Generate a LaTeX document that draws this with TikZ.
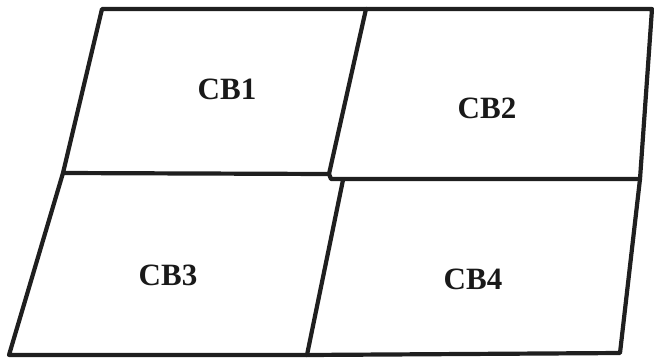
\documentclass[tikz,border=0pt]{standalone}
\usepackage{fontspec}
\setmainfont{Liberation Serif}
\begin{document}
\begin{tikzpicture}[x=1pt,y=-1pt,
  edge/.style={line width=4.2pt,line join=round,line cap=round,black!88},
  lbl/.style={font=\bfseries\fontsize{31}{31}\selectfont,inner sep=0pt,text=black!90}]
\useasboundingbox (0,0) rectangle (654,360);
\coordinate (TL) at (102,9);
\coordinate (TM) at (366,9);
\coordinate (TR) at (652,9);
\coordinate (ML) at (63,173);
\coordinate (MC1) at (329,174);
\coordinate (MC2) at (331,179);
\coordinate (MC3) at (343,180);
\coordinate (MR) at (640,179);
\coordinate (BL) at (9,355);
\coordinate (BM) at (307,355);
\coordinate (BR) at (620,353);
\draw[edge] (TL) -- (TM) -- (TR) -- (MR) -- (BR) -- (BM) -- (BL) -- (ML) -- cycle;
\draw[edge] (ML) -- (MC1);
\draw[edge] (TM) -- (MC1) -- (MC2) -- (MR);
\draw[edge] (MC3) -- (BM);
\node[lbl] (cb1) at (227,89) {CB1};
\node[lbl] (cb2) at (487,108) {CB2};
\node[lbl] (cb3) at (168,275) {CB3};
\node[lbl] (cb4) at (473,279) {CB4};
\end{tikzpicture}
\end{document}
